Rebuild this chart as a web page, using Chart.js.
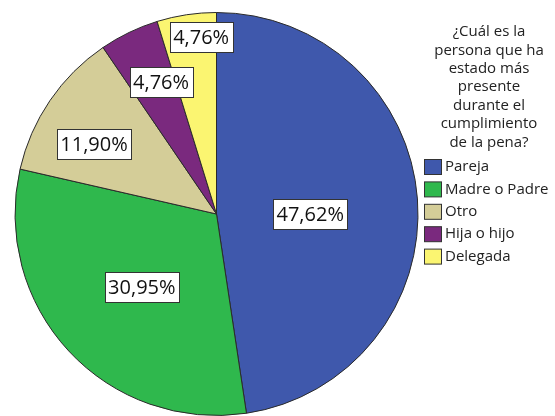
<!DOCTYPE html>
<html>
<head>
<meta charset="utf-8">
<script src="https://cdn.jsdelivr.net/npm/chart.js@4"></script>
<style>
  html, body { margin: 0; padding: 0; background: #fff; }
  #wrap { width: 555px; height: 416px; position: relative; }
</style>
</head>
<body>
<div id="wrap"><canvas id="pieChart"></canvas></div>
<script>
// Data
const categories = ['Pareja', 'Madre o Padre', 'Otro', 'Hija o hijo', 'Delegada'];
const percents = [47.62, 30.95, 11.90, 4.76, 4.76];
const legendTitle = ['¿Cuál es la', 'persona que ha', 'estado más', 'presente', 'durante el', 'cumplimiento', 'de la pena?'];

const colors = ['#3f58ac', '#2fb84d', '#d4cd98', '#7a297e', '#fbf571'];

// Percent labels in white boxes
const boxLabels = {
  id: 'boxLabels',
  afterDatasetsDraw(chart, args, opts) {
    const ctx = chart.ctx;
    const meta = chart.getDatasetMeta(0);
    ctx.save();
    ctx.font = '20px "Open Sans"';
    ctx.textAlign = 'center';
    ctx.textBaseline = 'middle';
    meta.data.forEach((arc, i) => {
      const p = arc.getProps(['x', 'y', 'startAngle', 'endAngle', 'outerRadius'], true);
      const mid = (p.startAngle + p.endAngle) / 2 + opts.shift[i] * Math.PI / 180;
      const r = p.outerRadius * opts.radius[i];
      const x = p.x + Math.cos(mid) * r;
      const y = p.y + Math.sin(mid) * r;
      const txt = percents[i].toFixed(2).replace('.', ',') + '%';
      const w = Math.round(ctx.measureText(txt).width + 7);
      const h = 30;
      const bx = Math.round(x - w / 2) + 0.5, by = Math.round(y - h / 2) + 0.5;
      ctx.fillStyle = '#fff';
      ctx.fillRect(bx, by, w, h);
      ctx.strokeStyle = '#333';
      ctx.lineWidth = 1;
      ctx.strokeRect(bx, by, w, h);
      ctx.fillStyle = '#111';
      ctx.fillText(txt, x, y + 1);
    });
    ctx.restore();
  }
};

// Legend with multi-line title on the right
const sideLegend = {
  id: 'sideLegend',
  afterDraw(chart) {
    const ctx = chart.ctx;
    ctx.save();
    ctx.fillStyle = '#222';
    ctx.font = '15px "Open Sans"';
    ctx.textAlign = 'center';
    ctx.textBaseline = 'middle';
    legendTitle.forEach((line, i) => {
      ctx.fillText(line, 489, 32 + i * 18.4);
    });
    ctx.textAlign = 'left';
    categories.forEach((c, i) => {
      const y = 167 + i * 22.4;
      ctx.fillStyle = colors[i];
      ctx.fillRect(424.5, y - 7.5, 17, 15);
      ctx.strokeStyle = '#333';
      ctx.lineWidth = 1;
      ctx.strokeRect(424.5, y - 7.5, 17, 15);
      ctx.fillStyle = '#222';
      ctx.fillText(c, 445, y);
    });
    ctx.restore();
  }
};

const ctx = document.getElementById('pieChart').getContext('2d');
new Chart(ctx, {
  type: 'pie',
  data: {
    labels: categories,
    datasets: [{
      data: percents,
      backgroundColor: colors,
      borderColor: '#2a2a2a',
      borderWidth: 1
    }]
  },
  options: {
    responsive: true,
    maintainAspectRatio: false,
    animation: false,
    layout: { padding: { left: 13, right: 135, top: 12, bottom: -4 } },
    plugins: {
      legend: { display: false },
      tooltip: { enabled: false },
      boxLabels: {
        radius: [0.465, 0.52, 0.70, 0.71, 0.88],
        shift: [4.3, -1.7, -4.6, 2.9, 3.6]
      }
    }
  },
  plugins: [boxLabels, sideLegend]
});
</script>
</body>
</html>
